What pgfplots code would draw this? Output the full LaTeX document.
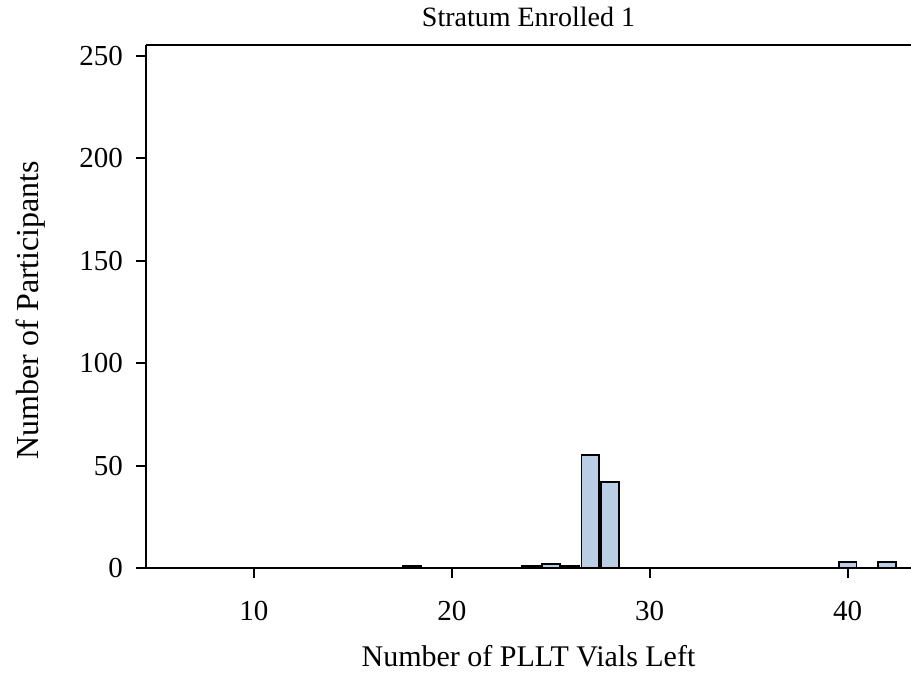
\documentclass[border=0pt]{standalone}
\usepackage{pgfplots}
\pgfplotsset{compat=1.18}
\usepackage{fontspec}
\setmainfont{Liberation Serif}
\definecolor{barfill}{HTML}{B9CDE5}

\begin{document}
\begin{tikzpicture}
  \useasboundingbox (-73pt,-58pt) rectangle (382.5pt,284pt);
  \begin{axis}[
    at={(0,0)}, anchor=south west,
    scale only axis,
    width=382.5pt, height=261.5pt,
    xmin=4.55, xmax=43.2,
    ymin=0, ymax=255.4,
    axis x line=bottom, axis y line=left,
    axis line style={-, line width=1pt},
    xtick={10,20,30,40},
    ytick={0,50,100,150,200,250},
    tick align=outside,
    major tick length=5pt,
    tick style={line width=1pt, black},
    every tick label/.append style={font=\fontsize{14.5}{16}\selectfont},
    /pgf/number format/assume math mode=true,
    xticklabel style={anchor=center, yshift=-16.5pt},
    yticklabel style={anchor=east, xshift=-3pt},
    xlabel={Number of PLLT Vials Left},
    ylabel={Number of Participants},
    title={Stratum Enrolled 1},
    every axis x label/.style={at={(rel axis cs:0.5,0)}, anchor=center,
      yshift=-44pt, font=\fontsize{15}{17}\selectfont},
    every axis y label/.style={at={(rel axis cs:0,0.5)}, anchor=center,
      rotate=90, yshift=57.5pt, xshift=-1.75pt, font=\fontsize{16}{18}\selectfont},
    title style={at={(rel axis cs:0.5,1)}, anchor=center, yshift=8pt,
      font=\fontsize{14}{16}\selectfont},
    clip=false,
  ]
    \addplot[ybar, bar width=0.9, bar shift=0pt, fill=barfill, draw=black,
      line width=0.9pt]
      coordinates {
        (18,1) (24,1) (25,2) (26,1) (27,55) (28,42) (40,3) (42,3)
      };
    \draw[line width=1pt] (rel axis cs:0,1) -- (rel axis cs:1,1);
  \end{axis}
\end{tikzpicture}
\end{document}
